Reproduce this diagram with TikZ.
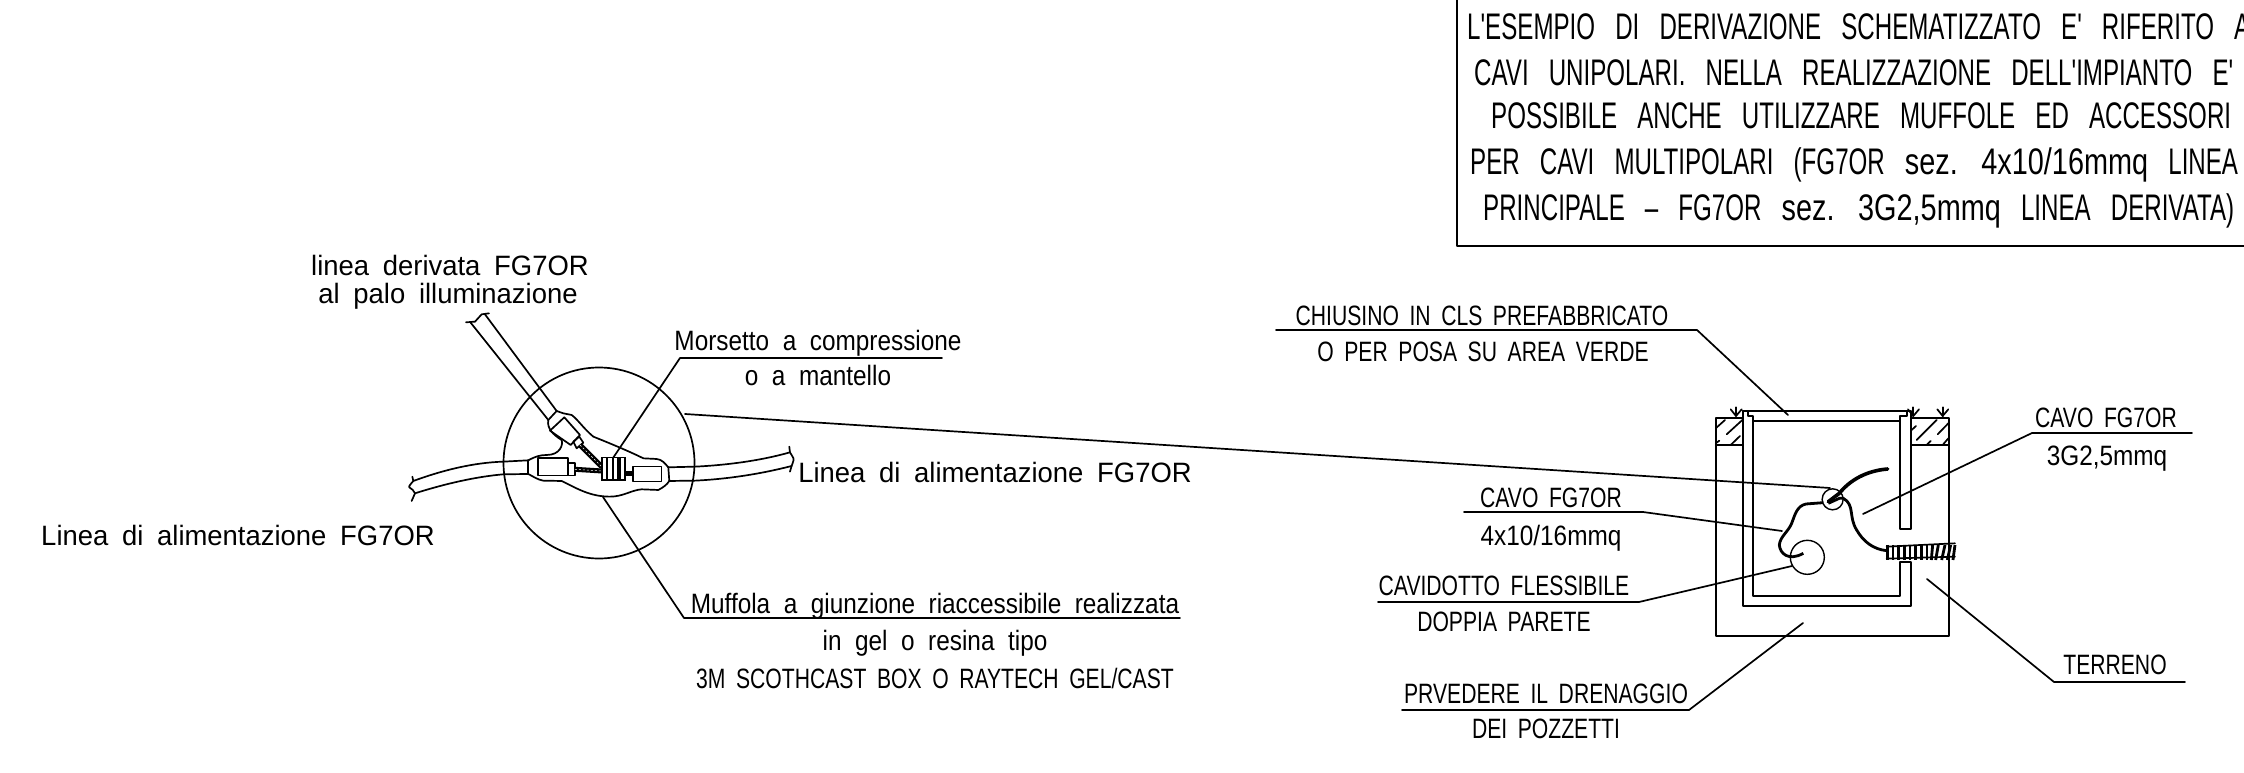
\documentclass[tikz,border=0pt]{standalone}
\usepackage{fontspec}
\newfontfamily\cadfont[FakeStretch=0.755,WordSpace=1.8]{Liberation Sans}
\newfontfamily\cadlow[FakeStretch=0.87,WordSpace=2]{Liberation Sans}
\newfontfamily\cadwide[FakeStretch=0.98,WordSpace=1.8]{Liberation Sans}
\newfontfamily\cadnote[FakeStretch=0.652,WordSpace=3]{Liberation Sans}
\newfontfamily\cadnlow[FakeStretch=0.78,WordSpace=2.6]{Liberation Sans}
\usetikzlibrary{calc,positioning}
\tikzstyle{lbl}=[font=\cadfont\fontsize{28}{28}\selectfont, anchor=base, inner sep=0]
\tikzstyle{lowlbl}=[font=\cadlow\fontsize{28}{28}\selectfont, anchor=base, inner sep=0]
\tikzstyle{widelbl}=[font=\cadwide\fontsize{28}{28}\selectfont, anchor=base, inner sep=0]
\tikzstyle{boxlbl}=[font=\cadnote\fontsize{37}{37}\selectfont, anchor=base west, inner sep=0]
\tikzstyle{ln}=[draw, line width=1.7pt, line join=round, line cap=round]
\tikzstyle{thk}=[draw, line width=3.6pt, line cap=round, line join=round]
\tikzstyle{wire}=[draw, line width=2.8pt, line join=round]
\tikzstyle{cond}=[draw=black, line width=5pt]
\tikzstyle{condmark}=[draw=white, line width=0.5pt, dash pattern=on 2pt off 2pt]
\begin{document}
\begin{tikzpicture}[x=1pt,y=-1pt]
\path[use as bounding box, clip] (0,0) rectangle (2244,773);
\fill[white] (0,0) rectangle (2244,773);

\draw[ln] (1457,-5) -- (1457,246) -- (2250,246);
\node[boxlbl] (note1) at (1467,40) {L'ESEMPIO DI DERIVAZIONE SCHEMATIZZATO E' RIFERITO A};
\node[boxlbl] (note2) at (1474,86) {CAVI UNIPOLARI. NELLA REALIZZAZIONE DELL'IMPIANTO E'};
\node[boxlbl] (note3) at (1491,129) {POSSIBILE ANCHE UTILIZZARE MUFFOLE ED ACCESSORI};
\node[boxlbl] (note4) at (1470,175) {PER CAVI MULTIPOLARI (FG7OR {\cadnlow sez. 4x10/16mmq} LINEA};
\node[boxlbl] (note5) at (1483,220) {PRINCIPALE – FG7OR {\cadnlow sez. 3G2,5mmq} LINEA DERIVATA)};

\node[widelbl] (deriv1) at (450,275) {linea derivata FG7OR};
\node[widelbl] (deriv2) at (448,303) {al palo illuminazione};
\node[lowlbl] (mors1) at (818,350) {Morsetto a compressione};
\node[lowlbl] (mors2) at (818,385) {o a mantello};
\node[widelbl] (alimdx) at (995,482) {Linea di alimentazione FG7OR};
\node[widelbl] (alimsx) at (238,545) {Linea di alimentazione FG7OR};
\node[lowlbl] (muff1) at (935,613) {Muffola a giunzione riaccessibile realizzata};
\node[lowlbl] (muff2) at (935,650) {in gel o resina tipo};
\node[lbl] (muff3) at (935,688) {3M SCOTHCAST BOX O RAYTECH GEL/CAST};
\node[lbl] (chius1) at (1482,325) {CHIUSINO IN CLS PREFABBRICATO};
\node[lbl] (chius2) at (1483,361) {O PER POSA SU AREA VERDE};
\node[lbl] (cavodx1) at (2106,427) {CAVO FG7OR};
\node[lowlbl] (cavodx2) at (2107,465) {3G2,5mmq};
\node[lbl] (cavosx1) at (1551,507) {CAVO FG7OR};
\node[lowlbl] (cavosx2) at (1551,545) {4x10/16mmq};
\node[lbl] (cavid1) at (1504,595) {CAVIDOTTO FLESSIBILE};
\node[lbl] (cavid2) at (1504,631) {DOPPIA PARETE};
\node[lbl] (dren1) at (1546,703) {PRVEDERE IL DRENAGGIO};
\node[lbl] (dren2) at (1546,738) {DEI POZZETTI};
\node[lbl] (terr) at (2115,674) {TERRENO};

\coordinate (circ) at (599,463);
\node[draw, circle, line width=1.7pt, minimum size=191pt, inner sep=0] (giunto) at (circ) {};
\coordinate (mA) at (942,358);
\coordinate (mB) at (680,358);
\coordinate (mC) at (613,458);
\draw[ln] (mA) -- (mB) -- (mC);
\coordinate (fA) at (1180,618);
\coordinate (fB) at (684,618);
\coordinate (fC) at (603,497);
\draw[ln] (fA) -- (fB) -- (fC);
\coordinate (gA) at (685,414);
\coordinate (gB) at (1830,488);
\draw[ln] (gA) -- (gB);
\coordinate (cA) at (1276,330);
\coordinate (cB) at (1697,330);
\coordinate (cC) at (1788,415);
\draw[ln] (cA) -- (cB) -- (cC);
\coordinate (dA) at (2192,433);
\coordinate (dB) at (2032,433);
\coordinate (dC) at (1863,514);
\draw[ln] (dA) -- (dB) -- (dC);
\coordinate (sA) at (1464,512);
\coordinate (sB) at (1643,512);
\coordinate (sC) at (1782,531);
\draw[ln] (sA) -- (sB) -- (sC);
\coordinate (vA) at (1378,602);
\coordinate (vB) at (1639,602);
\coordinate (vC) at (1792,566);
\draw[ln] (vA) -- (vB) -- (vC);
\coordinate (pA) at (1402,710);
\coordinate (pB) at (1689,710);
\coordinate (pC) at (1803,623);
\draw[ln] (pA) -- (pB) -- (pC);
\coordinate (tA) at (2185,682);
\coordinate (tB) at (2054,682);
\coordinate (tC) at (1927,579);
\draw[ln] (tA) -- (tB) -- (tC);

\begin{scope}[shift={(380,280)},x=0.3333pt,y=-0.3333pt]
\draw[ln] (100,603) .. controls (190,570) and (280,548) .. (370,545) -- (445,541);
\draw[ln] (105,640) .. controls (200,610) and (290,590) .. (370,583) -- (445,582);
\draw[ln] (97,590) -- (100,603) .. controls (92,612) and (85,620) .. (88,622) .. controls (95,626) and (102,632) .. (105,640) -- (95,663);
\draw[ln] (865,562) -- (945,560) .. controls (1050,555) and (1150,540) .. (1230,517);
\draw[ln] (868,603) -- (945,602) .. controls (1050,597) and (1150,580) .. (1235,558);
\draw[ln] (1228,500) -- (1230,517) .. controls (1233,525) and (1242,532) .. (1241,540) .. controls (1240,548) and (1236,552) .. (1235,558) -- (1230,575);
\draw[ln] (315,103) -- (530,393);
\draw[ln] (272,128) -- (505,420);
\draw[ln] (258,127) -- (285,125) -- (305,103) -- (327,100);
\draw[ln] (505,420) .. controls (500,445) and (520,465) .. (545,480) .. controls (550,495) and (540,525) .. (500,525) .. controls (480,525) and (465,530) .. (445,541);
\draw[ln] (445,582) .. controls (460,590) and (475,600) .. (490,602) -- (545,603) .. controls (590,625) and (630,650) .. (690,650) .. controls (730,650) and (755,630) .. (785,628) -- (835,630) .. controls (850,622) and (860,615) .. (868,603);
\draw[ln] (865,562) .. controls (855,550) and (845,538) .. (830,537) -- (790,535) .. controls (750,515) and (690,490) .. (640,470) .. controls (610,445) and (595,420) .. (575,405) -- (550,400) -- (530,393);
\draw[ln] (445,541) -- (445,582);
\draw[ln] (865,562) -- (868,603);
\draw[ln] (505,420) -- (530,393);
\draw[ln] (510,452) -- (553,412) -- (600,465) -- (572,495) -- cycle;
\draw[ln] (580,485) -- (598,470) -- (610,488) -- (590,505) -- cycle;
\draw[ln] (475,533) rectangle (563,587);
\draw[ln] (563,550) rectangle (585,587);
\draw[ln] (760,560) rectangle (845,605);
\draw[cond] (600,495) -- (666,561);
\draw[condmark] (600,495) -- (666,561);
\draw[cond] (585,568) -- (666,573);
\draw[condmark] (585,568) -- (666,573);
\draw[cond] (735,582) -- (760,582);
\foreach \cl/\wd in {666/15,681/18,699/15,720/15}
	\draw[draw=black, fill=white, line width=1.4pt] (\cl,532) rectangle +(\wd,68);
\end{scope}

\begin{scope}[shift={(1680,380)},x=0.3333pt,y=-0.3333pt]
\draw[ln] (187,113) -- (107,113) -- (107,768) -- (807,768) -- (807,113) -- (695,113);
\draw[ln] (107,195) -- (187,195);
\draw[ln] (695,195) -- (807,195);
\draw[ln] (188,93) -- (692,93);
\draw[ln] (219,123) -- (660,123);
\draw[ln] (188,93) -- (188,679) -- (692,679) -- (692,547) -- (660,547) -- (660,648) -- (219,648) -- (219,108) -- (203,108) -- (203,93);
\draw[ln] (692,93) -- (692,447) -- (660,447) -- (660,108) -- (680,108) -- (680,93);
\foreach \px in {168,700,788} {
	\draw[ln] (\px,82) -- (\px,108);
	\draw[ln] (\px-16,88) -- (\px,108) -- (\px+17,88);
}
\draw[ln] (107,145) -- (135,120);
\draw[ln] (140,163) -- (187,120);
\draw[ln] (107,190) -- (118,182);
\draw[ln] (152,195) -- (180,168);
\draw[ln] (695,150) -- (708,138);
\draw[ln] (710,180) -- (770,120);
\draw[ln] (773,163) -- (805,130);
\draw[ln] (740,195) -- (752,183);
\draw[ln] (788,195) -- (805,175);
\node[draw, circle, line width=1.4pt, minimum size=34pt, inner sep=0] (tubo) at (382,532) {};
\node[draw, circle, line width=1.4pt, minimum size=21pt, inner sep=0] (nodo) at (458,358) {};
\draw[thk] (623,267) .. controls (560,272) and (510,300) .. (478,340) -- (445,365);
\draw[wire] (430,368) -- (378,372) .. controls (350,378) and (345,405) .. (335,430) .. controls (325,455) and (300,470) .. (298,495) .. controls (300,520) and (325,545) .. (370,520);
\draw[wire] (445,370) -- (478,355) -- (490,355) .. controls (525,375) and (505,410) .. (530,450) .. controls (550,485) and (580,508) .. (620,512);
\foreach \rb/\tl in {622/0,639/0,656/0,673/0,690/0,707/0,724/0,741/0,758/4,775/8,795/10,812/10,825/6}
	\draw[draw=black, line width=2.8pt] (\rb,495) -- (\rb-\tl,540);
\draw[ln] (620,500) -- (825,490);
\draw[ln] (620,536) -- (825,530);
\end{scope}
\end{tikzpicture}
\end{document}
